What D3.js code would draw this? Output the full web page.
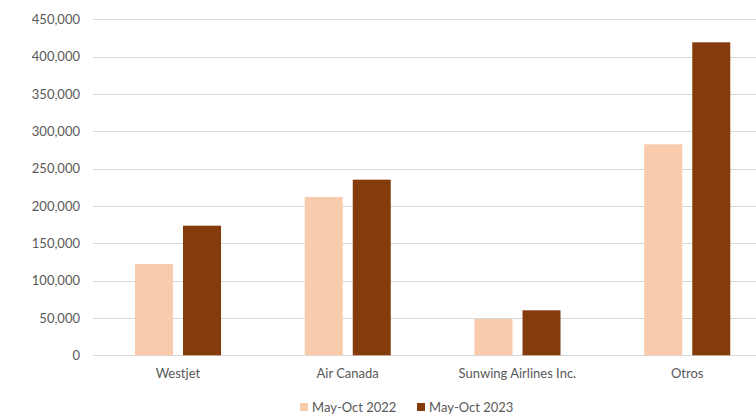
<!DOCTYPE html>
<html>
<head>
<meta charset="utf-8">
<script src="https://cdn.jsdelivr.net/npm/d3@7"></script>
<style>
html,body{margin:0;padding:0;background:#fff;}
svg{display:block;}
text{font-family:Lato,"Open Sans",sans-serif;fill:#595959;}
</style>
</head>
<body>
<svg id="chart" width="756" height="415"></svg>
<script>
const categories = ["Westjet", "Air Canada", "Sunwing Airlines Inc.", "Otros"];
const seriesNames = ["May-Oct 2022", "May-Oct 2023"];
const values2022 = [122300, 212000, 48600, 282600];
const values2023 = [173600, 235200, 60300, 419200];
const yTicks = [0, 50000, 100000, 150000, 200000, 250000, 300000, 350000, 400000, 450000];
const colors = ["#F8CBAD", "#843C0C"];

const svg = d3.select("#chart");
const x = d3.scaleBand().domain(categories).range([93, 772]).paddingInner(0).paddingOuter(0);
const y = d3.scaleLinear().domain([0, 450000]).range([355.3, 19.3]);
const bw = x.bandwidth();
const sub = d3.scaleBand().domain(seriesNames).range([bw * 0.2474, bw * 0.7541]).paddingInner(10 / 48).paddingOuter(0);

// gridlines
svg.append("g").selectAll("line").data(yTicks).join("line")
  .attr("x1", 93).attr("x2", 772)
  .attr("y1", d => Math.round(y(d)) + 0.5).attr("y2", d => Math.round(y(d)) + 0.5)
  .attr("stroke", "#D9D9D9").attr("stroke-width", 1);

// y axis labels
const yAxis = d3.axisLeft(y).tickValues(yTicks).tickSize(0).tickPadding(0)
  .tickFormat(d => d3.format(",")(d));
const ya = svg.append("g").attr("transform", "translate(80,0)").call(yAxis);
ya.select(".domain").remove();
ya.selectAll("text").attr("font-size", "13px").style("font-family", "Lato, 'Open Sans', sans-serif").attr("fill", "#595959");

// bars
const series = [values2022, values2023];
categories.forEach((c, i) => {
  series.forEach((vals, s) => {
    svg.append("rect")
      .attr("x", x(c) + sub(seriesNames[s]))
      .attr("y", y(vals[i]))
      .attr("width", sub.bandwidth())
      .attr("height", y(0) - y(vals[i]))
      .attr("fill", colors[s]);
  });
});

// x axis labels
const xAxis = d3.axisBottom(x).tickSize(0).tickPadding(0);
const xa = svg.append("g").attr("transform", "translate(0,369)").call(xAxis);
xa.select(".domain").remove();
xa.selectAll("text").attr("font-size", "13px").style("font-family", "Lato, 'Open Sans', sans-serif").attr("fill", "#595959");

// legend
const legendX = [300, 417];
const lg = svg.append("g");
seriesNames.forEach((n, s) => {
  lg.append("rect").attr("x", legendX[s]).attr("y", 403).attr("width", 8).attr("height", 8).attr("fill", colors[s]);
  lg.append("text").attr("x", legendX[s] + 12).attr("y", 412).attr("font-size", "13px").text(n);
});
</script>
</body>
</html>
